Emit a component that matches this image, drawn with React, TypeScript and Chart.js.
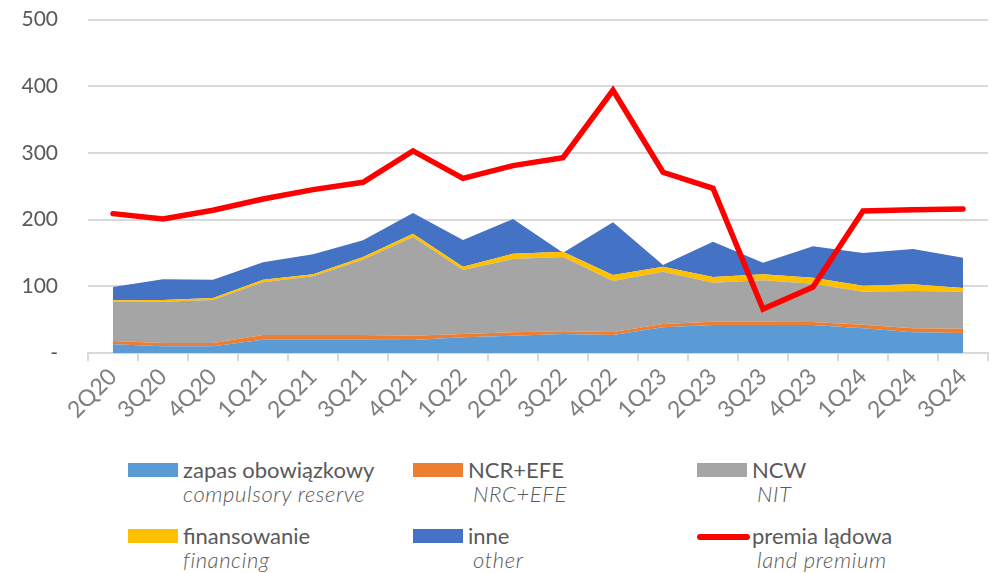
import React, { useEffect, useRef } from "react";
import { Chart, registerables } from "chart.js";

Chart.register(...registerables);

const categories = ["2Q20","3Q20","4Q20","1Q21","2Q21","3Q21","4Q21","1Q22","2Q22","3Q22","4Q22","1Q23","2Q23","3Q23","4Q23","1Q24","2Q24","3Q24"];
const compulsoryReserve = [13, 10, 10, 20, 20, 20, 19.5, 23.5, 26, 28.5, 27, 38.5, 42, 42, 42, 37, 31, 30];
const ncrEfe = [5, 5, 5, 7, 7, 7, 6.5, 5, 5, 4, 4.5, 5, 5, 5, 4.5, 5.5, 6, 6.5];
const ncw = [59, 62, 64.4, 79, 88, 113, 148, 96, 110, 111.5, 76.5, 78.5, 58.5, 62, 57.5, 49.5, 56, 55.5];
const financing = [2, 2.5, 3, 4, 3, 4, 5, 5, 8, 8, 9, 7.5, 8.5, 9, 9, 9, 10, 5.5];
const other = [20, 31, 27.4, 26, 30, 25, 31, 40, 52, -1.5, 79, 2.5, 53, 17.5, 47, 49, 53, 45.5];
const landPremium = [209, 201, 214, 231, 245, 256, 303, 262, 281, 293, 394, 271, 247, 66, 99, 213, 215, 216];
const yTicks = [0, 100, 200, 300, 400, 500];

const FONT = "Lato, 'Open Sans', sans-serif";

const legendItems = [
  { label: "zapas obowiązkowy", sub: "compulsory reserve", color: "#5B9BD5", line: false, x: 128, y: 0 },
  { label: "NCR+EFE", sub: "NRC+EFE", color: "#ED7D31", line: false, x: 413, y: 0 },
  { label: "NCW", sub: "NIT", color: "#A5A5A5", line: false, x: 697, y: 0 },
  { label: "finansowanie", sub: "financing", color: "#FFC000", line: false, x: 128, y: 1 },
  { label: "inne", sub: "other", color: "#4472C4", line: false, x: 413, y: 1 },
  { label: "premia lądowa", sub: "land premium", color: "#FF0000", line: true, x: 697, y: 1 },
];

export default function App() {
  const ref = useRef<HTMLCanvasElement | null>(null);
  useEffect(() => {
    if (!ref.current) return;
    const area = (label: string, data: number[], color: string, fill: any) => ({
      type: "line" as const,
      label,
      data,
      backgroundColor: color,
      borderColor: color,
      borderWidth: 0,
      pointRadius: 0,
      fill,
      stack: "areas",
      tension: 0,
    });
    const chart = new Chart(ref.current, {
      type: "line",
      data: {
        labels: categories,
        datasets: [
          {
            type: "line",
            label: "premia lądowa",
            data: landPremium,
            borderColor: "#FF0000",
            backgroundColor: "#FF0000",
            borderWidth: 5.5,
            pointRadius: 0,
            fill: false,
            stack: "line",
            borderCapStyle: "round",
            borderJoinStyle: "miter",
            tension: 0,
          } as any,
          area("zapas obowiązkowy", compulsoryReserve, "#5B9BD5", "origin"),
          area("NCR+EFE", ncrEfe, "#ED7D31", "-1"),
          area("NCW", ncw, "#A5A5A5", "-1"),
          area("finansowanie", financing, "#FFC000", "-1"),
          area("inne", other, "#4472C4", "-1"),
        ],
      },
      options: {
        animation: false,
        responsive: false,
        maintainAspectRatio: false,
        layout: { padding: { top: 18, right: 4, left: 0, bottom: 0 } },
        plugins: { legend: { display: false }, tooltip: { enabled: false } },
        scales: {
          x: {
            offset: true,
            grid: {
              offset: true,
              drawOnChartArea: false,
              drawTicks: true,
              tickLength: 8,
              color: "#D9D9D9",
              lineWidth: 2,
            },
            border: { display: true, color: "#D9D9D9", width: 2 },
            ticks: {
              minRotation: 45,
              maxRotation: 45,
              padding: 2,
              color: "#7F7F7F",
              font: { family: FONT, size: 23 },
            },
            afterFit: (s: any) => { s.height = 87; },
          },
          y: {
            stacked: "single" as any,
            min: 0,
            max: 500,
            afterBuildTicks: (s: any) => { s.ticks = yTicks.map((v) => ({ value: v })); },
            grid: { color: "#D9D9D9", lineWidth: 2, drawTicks: false },
            border: { display: false },
            ticks: {
              padding: 30,
              color: "#595959",
              font: { family: FONT, size: 21 },
              callback: (v: any) => (Number(v) === 0 ? "-" : String(v)),
            },
            afterFit: (s: any) => { s.width = 88; },
          },
        },
      },
    });
    return () => chart.destroy();
  }, []);

  return (
    <div style={{ position: "absolute", left: 0, top: 0, width: 992, height: 573, background: "#fff", fontFamily: FONT, overflow: "hidden" }}>
      <canvas ref={ref} width={992} height={463} style={{ position: "absolute", left: 0, top: -23 }} />
      {legendItems.map((it, i) => {
        const rowTop = it.y === 0 ? 457 : 523;
        return (
          <div key={i}>
            {it.line ? (
              <div style={{ position: "absolute", left: it.x, top: rowTop + 11, width: 53, height: 6, borderRadius: 3, background: it.color }} />
            ) : (
              <div style={{ position: "absolute", left: it.x, top: rowTop + 6, width: 50, height: 14, background: it.color }} />
            )}
            <div style={{ position: "absolute", left: it.x + 55, top: rowTop, lineHeight: "26px", fontSize: 22, color: "#595959", whiteSpace: "nowrap" }}>{it.label}</div>
            <div style={{ position: "absolute", left: it.x + (i % 3 === 0 ? 55 : 60), top: rowTop + 24, lineHeight: "26px", fontSize: 22, fontStyle: "italic", fontWeight: 300, letterSpacing: 0.6, color: "#595959", whiteSpace: "nowrap" }}>{it.sub}</div>
          </div>
        );
      })}
    </div>
  );
}
